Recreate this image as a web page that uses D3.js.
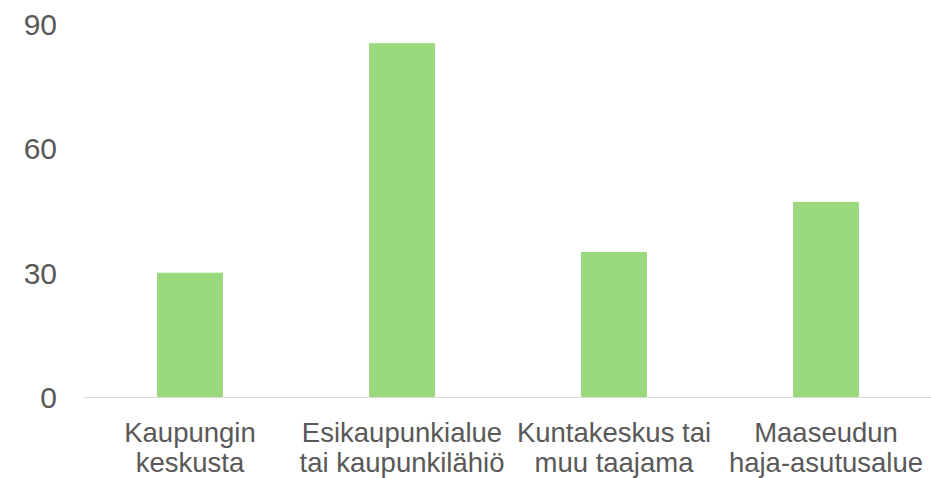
<!DOCTYPE html>
<html><head><meta charset="utf-8">
<script src="https://cdn.jsdelivr.net/npm/d3@7"></script>
<style>body{margin:0;background:#fff}svg{display:block}</style>
</head><body>
<svg id="c" width="931" height="478"></svg>
<script>
const categories = [
  ["Kaupungin", "keskusta"],
  ["Esikaupunkialue", "tai kaupunkilähiö"],
  ["Kuntakeskus tai", "muu taajama"],
  ["Maaseudun", "haja-asutusalue"]
];
const values = [30, 85.4, 35, 47.1];
const yTicks = [0, 30, 60, 90];

(function () {
const svg = d3.select("#c");
const mLeft = 84, mRight = 932, mTop = 24.1, mBottom = 397;
const x = d3.scaleBand().domain(d3.range(categories.length)).range([mLeft, mRight]).padding(0);
const y = d3.scaleLinear().domain([0, 90]).range([mBottom, mTop]);
const barW = x.bandwidth() * 0.311;
const font = "Liberation Sans, Arial, sans-serif";
const textColor = "#595959";

svg.selectAll("rect.bar").data(values).enter().append("rect")
  .attr("class", "bar")
  .attr("x", (d, i) => x(i) + x.bandwidth() / 2 - barW / 2)
  .attr("width", barW)
  .attr("y", d => y(d))
  .attr("height", d => y(0) - y(d))
  .attr("fill", "#9ad97d");

svg.append("line").attr("x1", mLeft).attr("x2", mRight)
  .attr("y1", y(0) + 0.5).attr("y2", y(0) + 0.5)
  .attr("stroke", "#d9d9d9").attr("stroke-width", 1);

svg.selectAll("text.yt").data(yTicks).enter().append("text")
  .attr("class", "yt")
  .attr("x", 57).attr("y", d => y(d) + 11)
  .attr("text-anchor", "end")
  .attr("font-family", font).attr("font-size", 30)
  .attr("fill", textColor)
  .text(d => d);

const g = svg.selectAll("text.xl").data(categories).enter().append("text")
  .attr("class", "xl")
  .attr("text-anchor", "middle")
  .attr("font-family", font).attr("font-size", 27.5)
  .attr("fill", textColor);
g.selectAll("tspan").data((d, i) => d.map(s => ({s, i}))).enter().append("tspan")
  .attr("x", d => x(d.i) + x.bandwidth() / 2)
  .attr("y", (d, j) => 441.7 + j * 30)
  .text(d => d.s);
})();
</script>
</body></html>
